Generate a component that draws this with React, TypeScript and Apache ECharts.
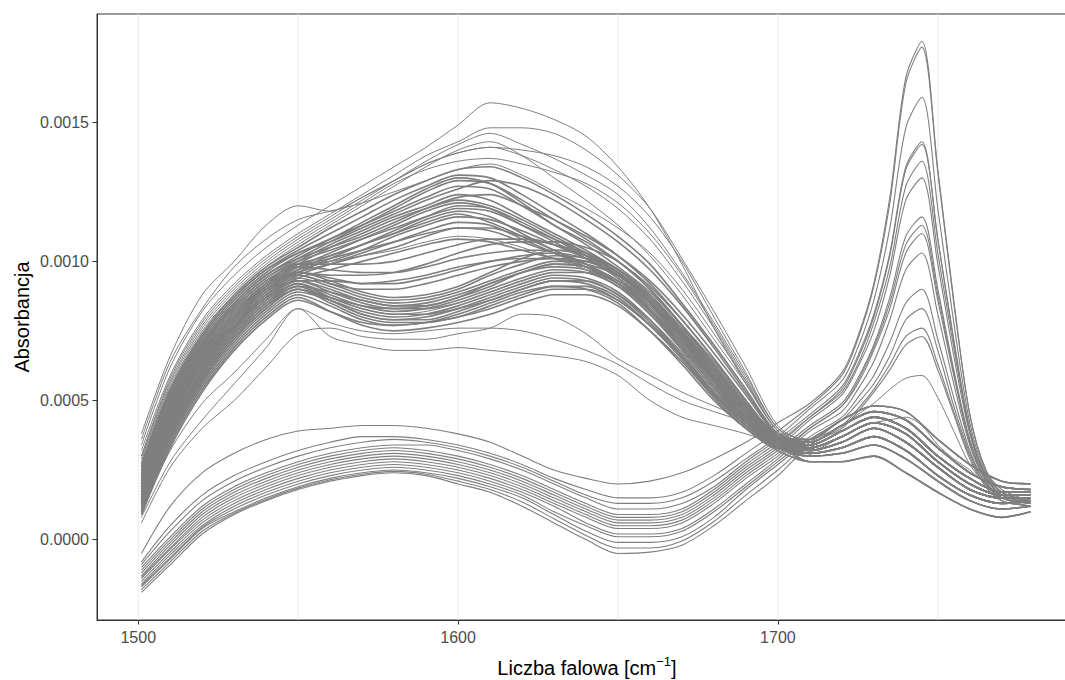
import React, { useEffect, useRef } from "react";
import * as echarts from "echarts";

// Wavenumber grids (cm^-1)
const GRID_A = [1501, 1510, 1520, 1530, 1540, 1550, 1560, 1570, 1580, 1590, 1600, 1610, 1620, 1630, 1640, 1650, 1660, 1670, 1680, 1690, 1700, 1710, 1720, 1730, 1740, 1750, 1760, 1770, 1779];
const GRID_B = [1501, 1510, 1520, 1530, 1540, 1550, 1560, 1570, 1580, 1590, 1600, 1610, 1620, 1630, 1640, 1650, 1660, 1670, 1680, 1690, 1700, 1710, 1720, 1725, 1730, 1735, 1740, 1745, 1750, 1755, 1760, 1765, 1770, 1779];

// absorbance values are written in units of 1e-4
const SCALE = 1e-4;

// upper band: highest spectra (GRID_A)
const UPPER_TOP = [
  [3.4, 6.2, 8.2, 9.5, 10.5, 11.3, 12.0, 12.7, 13.4, 14.1, 14.9, 15.7, 15.5, 15.1, 14.5, 13.4, 11.9, 9.9, 7.6, 5.6, 3.9, 3.3, 3.7, 4.2, 3.8, 2.8, 2.0, 1.6, 1.6],
  [3.2, 5.9, 7.9, 9.2, 10.2, 11.0, 11.7, 12.4, 13.1, 13.8, 14.3, 14.8, 14.8, 14.6, 14.0, 13.1, 11.9, 10.1, 8.2, 6.2, 4.1, 3.5, 4.1, 4.6, 4.3, 3.3, 2.4, 1.9, 1.8],
  [3.0, 5.7, 7.7, 9.0, 10.0, 10.8, 11.5, 12.2, 12.9, 13.6, 14.2, 14.6, 14.2, 13.7, 13.1, 12.4, 11.2, 9.6, 7.8, 5.9, 4.0, 3.4, 3.9, 4.4, 4.0, 3.0, 2.2, 1.7, 1.7],
  [2.8, 5.5, 7.5, 8.8, 9.8, 10.6, 11.3, 12.0, 12.7, 13.4, 14.0, 14.3, 13.8, 13.0, 12.2, 11.3, 10.2, 8.8, 7.2, 5.6, 3.9, 3.2, 3.5, 4.0, 3.5, 2.6, 1.8, 1.5, 1.5],
  [3.0, 5.8, 7.8, 9.1, 10.1, 10.9, 11.6, 12.3, 12.9, 13.5, 13.9, 14.1, 14.0, 13.8, 13.4, 12.7, 11.6, 10.0, 8.0, 6.0, 4.0, 3.6, 4.3, 4.8, 4.6, 3.6, 2.7, 2.1, 2.0],
  [2.9, 5.6, 7.6, 8.9, 9.9, 10.7, 11.4, 12.1, 12.8, 13.3, 13.6, 13.7, 13.5, 13.2, 12.8, 12.1, 11.0, 9.5, 7.7, 5.8, 4.0, 3.4, 3.9, 4.4, 4.0, 3.0, 2.2, 1.7, 1.7],
];

// outer spectra with the shoulder near 1550
const UPPER_OUTER = [
  [3.8, 6.6, 8.8, 10.0, 11.3, 12.0, 11.8, 12.3, 12.9, 13.5, 13.9, 14.1, 13.8, 13.3, 12.7, 11.9, 10.8, 9.3, 7.6, 5.7, 3.9, 3.5, 4.1, 4.6, 4.3, 3.3, 2.4, 1.9, 1.8],
  [3.6, 6.4, 8.3, 9.8, 10.8, 11.5, 11.8, 12.1, 12.5, 12.9, 13.3, 13.5, 13.1, 12.5, 11.9, 11.2, 10.3, 9.0, 7.4, 5.7, 3.9, 3.3, 3.7, 4.2, 3.8, 2.8, 2.0, 1.6, 1.6],
];

// upper sub-band (maximum near 1600)
const UPPER_HIGH = [
  [2.6, 5.3, 7.3, 8.7, 9.7, 10.4, 11.0, 11.6, 12.2, 12.7, 13.1, 13.0, 12.4, 11.7, 11.0, 10.2, 9.2, 7.9, 6.5, 5.0, 3.7, 3.6, 4.3, 4.8, 4.6, 3.6, 2.7, 2.1, 2.0],
  [2.4, 5.1, 7.1, 8.5, 9.5, 10.2, 10.8, 11.3, 11.8, 12.3, 12.7, 12.6, 12.0, 11.3, 10.7, 10.0, 9.1, 7.9, 6.5, 5.0, 3.6, 3.4, 3.9, 4.4, 4.0, 3.0, 2.2, 1.7, 1.7],
  [2.2, 4.9, 6.9, 8.3, 9.3, 10.0, 10.6, 11.1, 11.6, 12.0, 12.4, 12.2, 11.6, 11.0, 10.4, 9.7, 8.8, 7.6, 6.3, 4.9, 3.6, 3.2, 3.5, 4.0, 3.5, 2.6, 1.8, 1.5, 1.5],
  [2.0, 4.7, 6.7, 8.1, 9.1, 9.8, 10.3, 10.8, 11.3, 11.8, 12.1, 11.9, 11.3, 10.7, 10.1, 9.4, 8.5, 7.4, 6.1, 4.8, 3.6, 3.5, 4.1, 4.6, 4.3, 3.3, 2.4, 1.9, 1.8],
  [1.8, 4.5, 6.6, 8.0, 9.0, 9.7, 10.2, 10.6, 11.0, 11.5, 11.8, 11.6, 11.0, 10.4, 9.9, 9.2, 8.2, 7.0, 5.7, 4.4, 3.5, 3.1, 3.3, 3.7, 3.2, 2.3, 1.6, 1.3, 1.4],
  [2.3, 5.0, 7.0, 8.4, 9.4, 10.0, 10.4, 10.8, 11.2, 11.6, 11.9, 11.8, 11.3, 10.8, 10.3, 9.6, 8.7, 7.5, 6.2, 4.8, 3.6, 3.3, 3.7, 4.2, 3.8, 2.8, 2.0, 1.6, 1.6],
  [1.6, 4.3, 6.4, 7.8, 8.8, 9.5, 9.9, 10.3, 10.7, 11.1, 11.4, 11.3, 10.8, 10.3, 9.8, 9.2, 8.3, 7.1, 5.8, 4.5, 3.5, 3.4, 3.9, 4.4, 4.0, 3.0, 2.2, 1.7, 1.7],
  [2.1, 4.8, 6.8, 8.2, 9.2, 9.8, 10.1, 10.4, 10.7, 11.0, 11.2, 11.1, 10.7, 10.3, 9.9, 9.3, 8.5, 7.4, 6.1, 4.8, 3.6, 3.2, 3.5, 4.0, 3.5, 2.6, 1.8, 1.5, 1.5],
  [1.5, 4.2, 6.3, 7.7, 8.7, 9.4, 9.7, 10.0, 10.3, 10.6, 10.8, 10.7, 10.4, 10.1, 9.8, 9.2, 8.3, 7.1, 5.7, 4.4, 3.4, 3.0, 3.1, 3.4, 2.9, 2.1, 1.4, 1.1, 1.2],
  [2.5, 5.2, 7.2, 8.6, 9.6, 10.3, 10.7, 11.2, 11.7, 12.2, 12.6, 12.9, 12.7, 12.2, 11.5, 10.7, 9.7, 8.4, 6.9, 5.3, 3.8, 3.5, 4.1, 4.6, 4.3, 3.3, 2.4, 1.9, 1.8],
  [2.7, 5.4, 7.4, 8.8, 9.8, 10.5, 11.2, 11.8, 12.4, 12.9, 13.3, 13.4, 13.0, 12.4, 11.7, 10.9, 9.9, 8.5, 7.0, 5.4, 3.8, 3.4, 3.9, 4.4, 4.0, 3.0, 2.2, 1.7, 1.7],
  [1.9, 4.6, 6.6, 8.0, 9.0, 9.6, 9.9, 10.2, 10.5, 10.9, 11.2, 11.2, 10.9, 10.6, 10.2, 9.6, 8.7, 7.5, 6.2, 4.8, 3.5, 3.3, 3.7, 4.2, 3.8, 2.8, 2.0, 1.6, 1.6],
  [2.4, 5.1, 7.1, 8.5, 9.5, 10.1, 10.5, 10.9, 11.4, 11.9, 12.3, 12.4, 12.0, 11.5, 10.9, 10.2, 9.3, 8.1, 6.7, 5.2, 3.7, 3.1, 3.3, 3.7, 3.2, 2.3, 1.6, 1.3, 1.4],
  [2.3, 5.0, 7.0, 8.4, 9.4, 10.1, 10.7, 11.3, 11.9, 12.5, 12.9, 12.8, 12.2, 11.5, 10.8, 10.0, 9.0, 7.7, 6.3, 4.9, 3.7, 3.3, 3.7, 4.2, 3.8, 2.8, 2.0, 1.6, 1.6],
  [2.1, 4.8, 6.8, 8.2, 9.2, 9.9, 10.5, 11.0, 11.5, 11.9, 12.2, 12.0, 11.5, 10.9, 10.3, 9.5, 8.6, 7.4, 6.1, 4.7, 3.6, 3.4, 3.9, 4.4, 4.0, 3.0, 2.2, 1.7, 1.7],
  [1.7, 4.4, 6.5, 7.9, 8.9, 9.6, 10.1, 10.6, 11.1, 11.6, 12.0, 11.9, 11.4, 10.8, 10.2, 9.4, 8.5, 7.3, 6.0, 4.6, 3.5, 3.2, 3.5, 4.0, 3.5, 2.6, 1.8, 1.5, 1.5],
  [2.6, 5.3, 7.3, 8.7, 9.7, 10.3, 10.8, 11.4, 12.0, 12.6, 13.0, 12.8, 12.1, 11.3, 10.6, 9.8, 8.9, 7.7, 6.4, 5.0, 3.7, 3.5, 4.1, 4.6, 4.3, 3.3, 2.4, 1.9, 1.8],
  [2.0, 4.7, 6.7, 8.1, 9.1, 9.7, 10.0, 10.4, 10.9, 11.3, 11.6, 11.5, 11.1, 10.6, 10.1, 9.5, 8.6, 7.3, 6.0, 4.6, 3.5, 3.3, 3.7, 4.2, 3.8, 2.8, 2.0, 1.6, 1.6],
  [2.2, 4.9, 6.9, 8.3, 9.3, 9.9, 10.2, 10.6, 11.0, 11.4, 11.7, 11.4, 10.9, 10.4, 9.9, 9.3, 8.4, 7.2, 5.9, 4.6, 3.5, 3.1, 3.3, 3.7, 3.2, 2.3, 1.6, 1.3, 1.4],
];

// spectra between the two sub-bands
const UPPER_MID = [
  [1.9, 4.6, 6.6, 8.0, 9.1, 9.8, 9.7, 9.6, 9.6, 9.8, 10.1, 10.3, 10.4, 10.4, 10.2, 9.7, 8.8, 7.5, 6.0, 4.6, 3.5, 3.4, 3.9, 4.4, 4.0, 3.0, 2.2, 1.7, 1.7],
  [1.8, 4.4, 6.5, 7.9, 9.0, 9.6, 9.4, 9.2, 9.2, 9.4, 9.7, 10.0, 10.1, 10.1, 9.9, 9.5, 8.6, 7.3, 5.8, 4.4, 3.5, 3.2, 3.5, 4.0, 3.5, 2.6, 1.8, 1.5, 1.5],
  [1.4, 4.0, 6.1, 7.6, 8.7, 9.3, 9.3, 9.2, 9.3, 9.5, 9.8, 10.0, 10.2, 10.3, 10.1, 9.6, 8.6, 7.3, 5.8, 4.4, 3.5, 3.3, 3.7, 4.2, 3.8, 2.8, 2.0, 1.6, 1.6],
  [1.7, 4.4, 6.4, 7.9, 9.0, 9.6, 9.5, 9.5, 9.6, 9.9, 10.3, 10.6, 10.7, 10.7, 10.5, 10.0, 9.0, 7.7, 6.2, 4.7, 3.6, 3.5, 4.1, 4.6, 4.3, 3.3, 2.4, 1.9, 1.8],
  [2.0, 4.7, 6.7, 8.1, 9.2, 9.9, 9.9, 9.9, 10.0, 10.3, 10.6, 10.8, 10.8, 10.6, 10.3, 9.7, 8.8, 7.5, 6.1, 4.7, 3.6, 3.4, 3.9, 4.4, 4.0, 3.0, 2.2, 1.7, 1.7],
  [1.6, 4.2, 6.3, 7.7, 8.8, 9.5, 9.2, 9.0, 9.0, 9.2, 9.5, 9.8, 10.0, 10.1, 10.0, 9.5, 8.5, 7.2, 5.7, 4.3, 3.4, 3.1, 3.3, 3.7, 3.2, 2.3, 1.6, 1.3, 1.4],
];

// lower sub-band (dip near 1580)
const UPPER_LOW = [
  [1.5, 4.1, 6.1, 7.6, 8.7, 9.4, 9.1, 8.7, 8.5, 8.6, 8.9, 9.3, 9.7, 10.0, 10.0, 9.5, 8.5, 7.2, 5.7, 4.4, 3.5, 3.3, 3.7, 4.2, 3.8, 2.8, 2.0, 1.6, 1.6],
  [1.3, 3.9, 5.9, 7.4, 8.5, 9.2, 8.8, 8.4, 8.2, 8.3, 8.6, 9.0, 9.4, 9.7, 9.6, 9.1, 8.1, 6.8, 5.4, 4.2, 3.4, 3.2, 3.5, 4.0, 3.5, 2.6, 1.8, 1.5, 1.5],
  [1.1, 3.7, 5.7, 7.2, 8.3, 9.0, 8.6, 8.1, 7.9, 8.0, 8.3, 8.7, 9.1, 9.4, 9.3, 8.8, 7.8, 6.6, 5.2, 4.1, 3.4, 3.4, 3.9, 4.4, 4.0, 3.0, 2.2, 1.7, 1.7],
  [1.0, 3.5, 5.5, 7.0, 8.1, 8.8, 8.4, 7.9, 7.7, 7.8, 8.1, 8.5, 8.9, 9.1, 9.0, 8.5, 7.5, 6.3, 5.0, 4.0, 3.3, 3.0, 3.1, 3.4, 2.9, 2.1, 1.4, 1.1, 1.2],
  [1.7, 4.3, 6.3, 7.8, 8.9, 9.6, 9.3, 8.9, 8.7, 8.8, 9.1, 9.6, 10.1, 10.4, 10.3, 9.7, 8.7, 7.4, 5.9, 4.5, 3.5, 3.5, 4.1, 4.6, 4.3, 3.3, 2.4, 1.9, 1.8],
  [1.2, 3.8, 5.8, 7.3, 8.4, 9.0, 8.5, 8.0, 7.8, 7.8, 8.0, 8.3, 8.7, 9.0, 9.0, 8.6, 7.7, 6.5, 5.2, 4.1, 3.3, 3.1, 3.3, 3.7, 3.2, 2.3, 1.6, 1.3, 1.4],
  [0.9, 3.4, 5.4, 6.9, 8.0, 8.7, 8.2, 7.7, 7.5, 7.6, 7.8, 8.1, 8.5, 8.8, 8.8, 8.4, 7.5, 6.4, 5.1, 4.0, 3.2, 2.8, 2.8, 3.0, 2.4, 1.7, 1.1, 0.8, 1.0],
  [1.4, 4.0, 6.0, 7.5, 8.6, 9.3, 9.0, 8.6, 8.4, 8.4, 8.7, 9.1, 9.6, 9.9, 9.8, 9.3, 8.3, 7.0, 5.6, 4.3, 3.4, 3.6, 4.3, 4.8, 4.6, 3.6, 2.7, 2.1, 2.0],
  [1.6, 4.2, 6.2, 7.7, 8.8, 9.5, 9.2, 8.8, 8.6, 8.7, 9.0, 9.5, 9.9, 10.2, 10.1, 9.6, 8.6, 7.3, 5.8, 4.4, 3.5, 3.3, 3.7, 4.2, 3.8, 2.8, 2.0, 1.6, 1.6],
  [1.0, 3.6, 5.6, 7.1, 8.2, 8.9, 8.6, 8.2, 8.0, 8.1, 8.4, 8.8, 9.2, 9.5, 9.4, 8.9, 7.9, 6.6, 5.2, 4.1, 3.4, 2.8, 2.8, 3.0, 2.4, 1.7, 1.1, 0.8, 1.0],
  [1.2, 3.8, 5.8, 7.3, 8.4, 9.1, 8.9, 8.6, 8.4, 8.5, 8.8, 9.2, 9.6, 9.8, 9.7, 9.2, 8.2, 6.9, 5.5, 4.2, 3.4, 3.2, 3.5, 4.0, 3.5, 2.6, 1.8, 1.5, 1.5],
  [0.9, 3.3, 5.3, 6.8, 7.9, 8.6, 8.2, 7.8, 7.7, 7.8, 8.0, 8.4, 8.8, 9.1, 9.1, 8.6, 7.7, 6.6, 5.3, 4.1, 3.3, 3.0, 3.1, 3.4, 2.9, 2.1, 1.4, 1.1, 1.2],
  [1.4, 4.0, 6.0, 7.5, 8.6, 9.2, 8.7, 8.3, 8.1, 8.1, 8.3, 8.6, 9.0, 9.3, 9.3, 8.8, 7.9, 6.7, 5.3, 4.2, 3.4, 3.4, 3.9, 4.4, 4.0, 3.0, 2.2, 1.7, 1.7],
  [1.1, 3.7, 5.7, 7.2, 8.3, 9.0, 8.7, 8.4, 8.3, 8.4, 8.7, 9.2, 9.6, 9.9, 9.8, 9.2, 8.2, 6.9, 5.5, 4.2, 3.4, 3.1, 3.3, 3.7, 3.2, 2.3, 1.6, 1.3, 1.4],
  [1.3, 3.9, 5.9, 7.4, 8.5, 9.1, 8.6, 8.1, 7.9, 7.9, 8.2, 8.6, 9.0, 9.3, 9.2, 8.7, 7.7, 6.5, 5.1, 4.0, 3.3, 3.3, 3.7, 4.2, 3.8, 2.8, 2.0, 1.6, 1.6],
  [1.5, 4.1, 6.1, 7.6, 8.7, 9.3, 8.9, 8.5, 8.3, 8.3, 8.5, 8.9, 9.3, 9.6, 9.6, 9.1, 8.1, 6.9, 5.5, 4.3, 3.4, 3.2, 3.5, 4.0, 3.5, 2.6, 1.8, 1.5, 1.5],
];

// lowest spectra of the upper band
const UPPER_BOTTOM = [
  [0.8, 2.8, 4.3, 5.6, 6.9, 8.3, 7.3, 7.0, 6.8, 6.8, 6.9, 6.8, 6.7, 6.6, 6.4, 5.9, 5.0, 4.4, 4.1, 3.8, 3.4, 3.0, 3.1, 3.4, 2.9, 2.1, 1.4, 1.1, 1.2],
  [0.6, 2.6, 4.0, 5.0, 6.2, 7.4, 7.6, 7.3, 7.2, 7.2, 7.4, 7.6, 8.1, 8.0, 7.4, 6.5, 5.9, 5.3, 4.8, 4.3, 3.6, 2.8, 2.8, 3.0, 2.4, 1.7, 1.1, 0.8, 1.0],
  [1.0, 3.2, 4.9, 6.0, 7.2, 8.3, 7.8, 7.5, 7.4, 7.5, 7.6, 7.6, 7.5, 7.2, 6.8, 6.3, 5.6, 5.0, 4.6, 4.2, 3.6, 3.2, 3.5, 4.0, 3.5, 2.6, 1.8, 1.5, 1.5],
];

// upper-band spectra with a small band near 1745 (GRID_B)
const UPPER_SHOULDER = [
  [2.2, 4.9, 6.9, 8.3, 9.3, 9.9, 10.0, 10.2, 10.4, 10.7, 10.9, 10.8, 10.5, 10.1, 9.7, 9.1, 8.3, 7.2, 5.9, 4.6, 3.5, 3.5, 4.1, 4.5, 4.9, 5.4, 5.8, 5.9, 5.1, 3.9, 2.7, 2.0, 1.6, 1.4],
  [1.3, 3.9, 5.9, 7.4, 8.5, 9.1, 8.7, 8.3, 8.1, 8.2, 8.5, 8.9, 9.3, 9.6, 9.6, 9.2, 8.4, 7.3, 6.0, 4.6, 3.4, 3.2, 3.7, 4.0, 4.2, 4.3, 4.4, 4.1, 3.4, 2.9, 2.5, 2.0, 1.6, 1.3],
];

// lower band, strong band near 1745 (GRID_B)
const LOWER_PEAKED = [
  [-0.5, 1.2, 2.4, 3.1, 3.6, 3.9, 4.0, 4.1, 4.1, 4.0, 3.8, 3.5, 3.0, 2.5, 2.2, 2.0, 2.1, 2.4, 2.9, 3.5, 4.2, 4.9, 6.0, 7.3, 9.2, 12.3, 16.6, 17.9, 13.3, 8.6, 4.5, 2.5, 1.8, 1.4],
  [-0.8, 0.5, 1.6, 2.3, 2.8, 3.2, 3.5, 3.7, 3.7, 3.6, 3.4, 3.1, 2.7, 2.2, 1.8, 1.5, 1.5, 1.7, 2.3, 3.1, 3.9, 4.8, 5.9, 7.2, 9.1, 12.1, 16.4, 17.7, 13.2, 8.5, 4.5, 2.5, 1.7, 1.4],
  [-0.9, 0.3, 1.4, 2.1, 2.6, 3.0, 3.3, 3.5, 3.6, 3.5, 3.3, 3.0, 2.6, 2.1, 1.6, 1.3, 1.3, 1.5, 2.1, 2.9, 3.7, 4.7, 5.7, 6.9, 8.6, 11.2, 14.8, 15.9, 11.9, 7.8, 4.2, 2.4, 1.7, 1.4],
  [-1.0, 0.1, 1.2, 1.9, 2.4, 2.8, 3.1, 3.3, 3.4, 3.4, 3.2, 2.9, 2.5, 2.0, 1.5, 1.1, 1.1, 1.3, 1.9, 2.8, 3.6, 4.5, 5.5, 6.6, 8.1, 10.3, 13.4, 14.3, 10.8, 7.2, 4.0, 2.3, 1.7, 1.3],
  [-1.1, 0.0, 1.1, 1.8, 2.3, 2.7, 3.0, 3.2, 3.3, 3.2, 3.0, 2.7, 2.3, 1.8, 1.3, 0.9, 0.9, 1.1, 1.8, 2.7, 3.5, 4.4, 5.4, 6.5, 8.0, 10.2, 13.3, 14.2, 10.8, 7.1, 3.9, 2.3, 1.7, 1.4],
  [-1.2, -0.1, 1.0, 1.7, 2.2, 2.6, 2.9, 3.1, 3.2, 3.1, 2.9, 2.6, 2.2, 1.7, 1.2, 0.8, 0.8, 1.0, 1.7, 2.6, 3.4, 4.4, 5.3, 6.3, 7.8, 9.8, 12.7, 13.6, 10.3, 6.9, 3.9, 2.3, 1.6, 1.3],
  [-1.3, -0.2, 0.9, 1.6, 2.1, 2.5, 2.8, 3.0, 3.1, 3.0, 2.8, 2.5, 2.1, 1.6, 1.1, 0.7, 0.7, 0.9, 1.6, 2.5, 3.3, 4.3, 5.2, 6.2, 7.5, 9.5, 12.2, 13.0, 9.9, 6.6, 3.8, 2.2, 1.6, 1.3],
  [-1.35, -0.3, 0.8, 1.5, 2.0, 2.4, 2.7, 2.9, 3.0, 2.9, 2.7, 2.4, 2.0, 1.5, 1.0, 0.6, 0.6, 0.8, 1.5, 2.4, 3.2, 4.1, 4.9, 5.8, 7.0, 8.7, 10.9, 11.6, 9.0, 6.1, 3.6, 2.2, 1.6, 1.3],
  [-1.4, -0.35, 0.7, 1.4, 1.9, 2.3, 2.6, 2.8, 2.9, 2.8, 2.6, 2.3, 1.9, 1.4, 0.9, 0.5, 0.5, 0.7, 1.4, 2.3, 3.1, 4.0, 4.8, 5.7, 6.9, 8.5, 10.6, 11.3, 8.8, 6.0, 3.5, 2.1, 1.5, 1.3],
  [-1.5, -0.45, 0.6, 1.3, 1.8, 2.2, 2.5, 2.7, 2.8, 2.7, 2.5, 2.2, 1.8, 1.3, 0.8, 0.4, 0.4, 0.6, 1.3, 2.2, 3.0, 4.0, 4.8, 5.6, 6.8, 8.3, 10.3, 11.0, 8.6, 5.9, 3.5, 2.1, 1.5, 1.2],
  [-1.6, -0.55, 0.5, 1.2, 1.7, 2.1, 2.4, 2.6, 2.7, 2.6, 2.4, 2.1, 1.7, 1.2, 0.6, 0.2, 0.2, 0.4, 1.1, 2.0, 2.9, 3.9, 4.6, 5.4, 6.4, 7.9, 9.7, 10.3, 8.1, 5.6, 3.4, 2.1, 1.5, 1.3],
  [-1.65, -0.65, 0.45, 1.1, 1.6, 2.0, 2.3, 2.5, 2.6, 2.5, 2.3, 2.0, 1.6, 1.0, 0.5, 0.1, 0.1, 0.3, 1.0, 1.9, 2.8, 3.7, 4.4, 5.1, 5.9, 7.1, 8.5, 9.0, 7.2, 5.1, 3.2, 2.0, 1.5, 1.2],
  [-1.7, -0.7, 0.4, 1.0, 1.5, 1.9, 2.2, 2.4, 2.5, 2.4, 2.2, 1.9, 1.5, 0.9, 0.3, -0.1, -0.1, 0.1, 0.8, 1.8, 2.7, 3.6, 4.3, 4.9, 5.6, 6.6, 7.9, 8.3, 6.8, 4.8, 3.1, 2.0, 1.5, 1.3],
  [-1.8, -0.8, 0.3, 0.95, 1.45, 1.85, 2.15, 2.35, 2.45, 2.35, 2.1, 1.8, 1.35, 0.75, 0.15, -0.3, -0.3, -0.05, 0.65, 1.6, 2.5, 3.5, 4.1, 4.7, 5.4, 6.3, 7.3, 7.6, 6.3, 4.6, 3.0, 1.9, 1.4, 1.2],
  [-1.9, -0.9, 0.2, 0.9, 1.4, 1.8, 2.1, 2.3, 2.4, 2.3, 2.0, 1.7, 1.2, 0.6, 0.0, -0.5, -0.45, -0.2, 0.5, 1.4, 2.3, 3.4, 4.0, 4.6, 5.3, 6.1, 7.0, 7.3, 6.1, 4.5, 2.9, 1.9, 1.4, 1.2],
];

const X_LABELS = [1500, 1600, 1700];
const X_GRIDLINES = [1500, 1550, 1600, 1650, 1700, 1750];
const Y_LABELS = [0, 0.0005, 0.001, 0.0015];
const X_MIN = 1487.1;
const X_MAX = 1792.9;
const Y_MIN = -0.000289;
const Y_MAX = 0.001889;

const LINE_COLOR = "#7f7f7f";
const FONT = "'Liberation Sans', Arial, Helvetica, sans-serif";

function makeSeries(xs: number[], ys: number[], width: number) {
  return {
    type: "line",
    data: xs.map((x, i) => [x, ys[i] * SCALE]),
    showSymbol: false,
    symbol: "none",
    smooth: 0.3,
    silent: true,
    z: 3,
    lineStyle: { color: LINE_COLOR, width },
    emphasis: { disabled: true },
  };
}

export default function App() {
  const ref = useRef<HTMLDivElement>(null);
  useEffect(() => {
    if (!ref.current) return;
    const chart = echarts.init(ref.current, undefined, { renderer: "svg" });
    const series: any[] = [];
    // vertical panel gridlines (drawn first, below the spectra)
    X_GRIDLINES.forEach((x) => {
      series.push({
        type: "line",
        data: [[x, Y_MIN], [x, Y_MAX]],
        showSymbol: false,
        symbol: "none",
        silent: true,
        z: 1,
        lineStyle: { color: "#ebebeb", width: 1 },
        emphasis: { disabled: true },
      });
    });
    const wDense = 1.6;
    UPPER_TOP.forEach((ys) => series.push(makeSeries(GRID_A, ys, 1)));
    UPPER_OUTER.forEach((ys) => series.push(makeSeries(GRID_A, ys, 1)));
    UPPER_HIGH.forEach((ys) => series.push(makeSeries(GRID_A, ys, wDense)));
    UPPER_MID.forEach((ys) => series.push(makeSeries(GRID_A, ys, wDense)));
    UPPER_LOW.forEach((ys) => series.push(makeSeries(GRID_A, ys, wDense)));
    UPPER_BOTTOM.forEach((ys) => series.push(makeSeries(GRID_A, ys, 1)));
    UPPER_SHOULDER.forEach((ys) => series.push(makeSeries(GRID_B, ys, 1)));
    LOWER_PEAKED.forEach((ys) => series.push(makeSeries(GRID_B, ys, 1.1)));

    chart.setOption({
      animation: false,
      backgroundColor: "#ffffff",
      grid: {
        left: 97,
        top: 14,
        width: 978,
        height: 606,
        show: true,
        borderColor: "#333333",
        borderWidth: 1,
        containLabel: false,
        outerBoundsMode: "none",
      },
      xAxis: {
        type: "value",
        min: X_MIN,
        max: X_MAX,
        axisLine: { show: true, onZero: false, lineStyle: { color: "#333333", width: 1 } },
        axisTick: { show: true, length: 4.5, customValues: X_LABELS, lineStyle: { color: "#333333", width: 1 } },
        axisLabel: {
          customValues: X_LABELS,
          margin: 9,
          fontSize: 16,
          fontFamily: FONT,
          color: "#4d4d4d",
          formatter: (v: number) => String(v),
        },
        splitLine: { show: false },
      },
      yAxis: {
        type: "value",
        min: Y_MIN,
        max: Y_MAX,
        axisLine: { show: true, onZero: false, lineStyle: { color: "#333333", width: 1 } },
        axisTick: { show: true, length: 4.5, customValues: Y_LABELS, lineStyle: { color: "#333333", width: 1 } },
        axisLabel: {
          customValues: Y_LABELS,
          margin: 8,
          fontSize: 16,
          fontFamily: FONT,
          color: "#4d4d4d",
          formatter: (v: number) => v.toFixed(4),
        },
        splitLine: { show: false },
      },
      graphic: [
        {
          type: "text",
          x: 587,
          y: 668,
          style: {
            text: "{n|Liczba falowa [cm}{s|−1}{n|]}",
            textAlign: "center",
            textVerticalAlign: "middle",
            fill: "#000000",
            font: `20px ${FONT}`,
            rich: {
              n: { fontSize: 20, fontFamily: FONT, fill: "#000000", lineHeight: 26 },
              s: { fontSize: 13, fontFamily: FONT, fill: "#000000", lineHeight: 10, verticalAlign: "top" },
            },
          },
        },
        {
          type: "text",
          x: 22,
          y: 317,
          rotation: Math.PI / 2,
          style: {
            text: "Absorbancja",
            textAlign: "center",
            textVerticalAlign: "middle",
            fill: "#000000",
            font: `20px ${FONT}`,
          },
        },
      ],
      series,
    });
    return () => chart.dispose();
  }, []);
  return (
    <div
      ref={ref}
      style={{ position: "absolute", left: 0, top: 0, width: 1065, height: 680, overflow: "hidden" }}
    />
  );
}
